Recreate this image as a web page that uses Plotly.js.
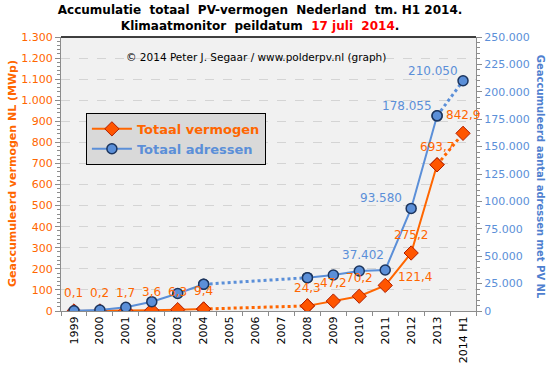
<!DOCTYPE html>
<html>
<head>
<meta charset="utf-8">
<script src="https://cdn.plot.ly/plotly-3.0.1.min.js"></script>
<style>html,body{margin:0;padding:0;background:#fff}#chart{width:551px;height:371px}</style>
</head>
<body>
<div id="chart"></div>
<script>
// ---- data ----
const years = ['1999','2000','2001','2002','2003','2004','2005','2006','2007','2008','2009','2010','2011','2012','2013','2014 H1'];
const vermogen = [0.1, 0.2, 1.7, 3.6, 6.3, 9.4, null, null, null, 24.3, 47.2, 70.2, 121.4, 275.2, 693.7, 842.9];
const adressen = [200, 900, 3400, 8500, 16000, 24400, null, null, null, 30400, 32800, 36500, 37402, 93580, 178055, 210050];
const adressenLabelled = [false,false,false,false,false,false,false,false,false,false,false,false,true,true,true,true];
const leftTicks = [0,100,200,300,400,500,600,700,800,900,1000,1100,1200,1300];
const rightTicks = [0,25000,50000,75000,100000,125000,150000,175000,200000,225000,250000];

// ---- style ----
const ORANGE = '#ff6600', BLUE = '#5b8fd8';
const FONT = 'DejaVu Sans, Verdana, sans-serif';
const solidSegs = [[0,5],[9,14]];
const dottedSegs = [[5,9],[14,15]];

function seg(vals, a, b){
  const xs=[], ys=[];
  for(let i=a;i<=b;i++){ if(vals[i]!==null){ xs.push(years[i]); ys.push(vals[i]); } }
  return {x:xs, y:ys};
}
const traces = [];
function addSeries(vals, name, yaxis, color, marker){
  solidSegs.forEach((s,k)=>{
    const d = seg(vals, s[0], s[1]);
    traces.push({type:'scatter', mode:'lines+markers', x:d.x, y:d.y, yaxis:yaxis,
      name:name, showlegend:k===0, line:{color:color, width:2}, marker:marker, hoverinfo:'skip'});
  });
  dottedSegs.forEach(s=>{
    const d = seg(vals, s[0], s[1]);
    traces.push({type:'scatter', mode:'lines+markers', x:d.x, y:d.y, yaxis:yaxis,
      showlegend:false, line:{color:color, width:3, dash:'dot'}, marker:marker, hoverinfo:'skip'});
  });
}
addSeries(vermogen, '<span style="color:'+ORANGE+'"><b>Totaal vermogen</b></span>', 'y', ORANGE,
  {symbol:'diamond', size:11, color:'#ff5500', line:{color:'#b01e00', width:1}});
addSeries(adressen, '<span style="color:'+BLUE+'"><b>Totaal adressen</b></span>', 'y2', BLUE,
  {symbol:'circle', size:10, color:BLUE, line:{color:'#1c355e', width:1.5}});

function fmtDec(v){ return String(v).replace('.', ','); }
function fmtThousands(v){ return String(v).replace(/\B(?=(\d{3})+(?!\d))/g, '.'); }

const annotations = [];
vermogen.forEach((v,i)=>{
  if(v===null) return;
  const isRight = (i===12);
  annotations.push({x:i, y:v, xref:'x', yref:'y', text:fmtDec(v), showarrow:false,
    font:{family:FONT, size:12, color:ORANGE}, xshift:isRight?30:0, yshift:isRight?8:18});
});
adressen.forEach((v,i)=>{
  if(v===null || !adressenLabelled[i]) return;
  annotations.push({x:i, y:v, xref:'x', yref:'y2', text:fmtThousands(v), showarrow:false,
    font:{family:FONT, size:12, color:BLUE}, xshift:(i===12?-22:-30), yshift:(i===12?15:10)});
});
annotations.push({xref:'paper', yref:'paper', x:0.47, y:0.956, text:'© 2014 Peter J. Segaar / www.polderpv.nl (graph)',
  showarrow:false, font:{family:FONT, size:10.5, color:'#000'}});
annotations.push({xref:'paper', yref:'paper', x:-0.118, y:0.5, xanchor:'center', yanchor:'middle', textangle:-90,
  text:'<b>Geaccumuleerd vermogen NL (MWp)</b>', showarrow:false, font:{family:FONT, size:11, color:ORANGE}});
annotations.push({xref:'paper', yref:'paper', x:1.154, y:0.49, xanchor:'center', yanchor:'middle', textangle:90,
  text:'<b>Geaccumuleerd aantal adressen met PV NL</b>', showarrow:false, font:{family:FONT, size:10, color:'#4f7fcf'}});

const layout = {
  width:551, height:371,
  margin:{l:61, r:75, t:37, b:60},
  paper_bgcolor:'#ffffff', plot_bgcolor:'#f1f1f1',
  separators:',.',
  font:{family:FONT, size:11, color:'#000'},
  title:{text:'<b>Accumulatie  totaal  PV-vermogen  Nederland  tm. H1 2014.</b><br><b>Klimaatmonitor  peildatum  <span style="color:#ff0000">17 juli  2014</span>.</b>',
    font:{family:FONT, size:12, color:'#000'}, x:0.472, xanchor:'center', yref:'container', y:0.961, yanchor:'middle'},
  xaxis:{type:'category', categoryorder:'array', categoryarray:years, range:[-0.5,15.5],
    tickangle:-90, tickfont:{family:FONT, size:11, color:'#000'}, showgrid:false, zeroline:false,
    showline:true, linecolor:'#8c8c8c', ticks:'outside', tickson:'boundaries', ticklen:4, tickcolor:'#8c8c8c', fixedrange:true},
  yaxis:{range:[0,1300], tickvals:leftTicks, separatethousands:true, tickformat:',d',
    tickfont:{family:FONT, size:11, color:ORANGE}, showgrid:true, gridcolor:'#d4d4d4', griddash:'dash',
    zeroline:false, showline:true, linecolor:'#8c8c8c', ticks:'outside', ticklen:5, tickcolor:'#8c8c8c',
    minor:{dtick:20, ticks:'outside', ticklen:3, tickcolor:'#8c8c8c', showgrid:false}},
  yaxis2:{range:[0,250000], tickvals:rightTicks, overlaying:'y', side:'right', separatethousands:true, tickformat:',d',
    tickfont:{family:FONT, size:11, color:BLUE}, showgrid:false, zeroline:false, showline:true, linecolor:'#8c8c8c',
    ticks:'outside', ticklen:5, tickcolor:'#8c8c8c',
    minor:{dtick:5000, ticks:'outside', ticklen:3, tickcolor:'#8c8c8c', showgrid:false}},
  legend:{x:0.06, y:0.723, xanchor:'left', yanchor:'top', bgcolor:'#d9d9d9', bordercolor:'#000', borderwidth:1,
    font:{family:FONT, size:13}, itemwidth:40, tracegroupgap:6},
  shapes:[{type:'line', xref:'paper', yref:'paper', x0:0, x1:1, y0:1, y1:1, line:{color:'#000', width:1.5}}],
  annotations:annotations
};
Plotly.newPlot('chart', traces, layout, {displayModeBar:false, staticPlot:true});
</script>
</body>
</html>
